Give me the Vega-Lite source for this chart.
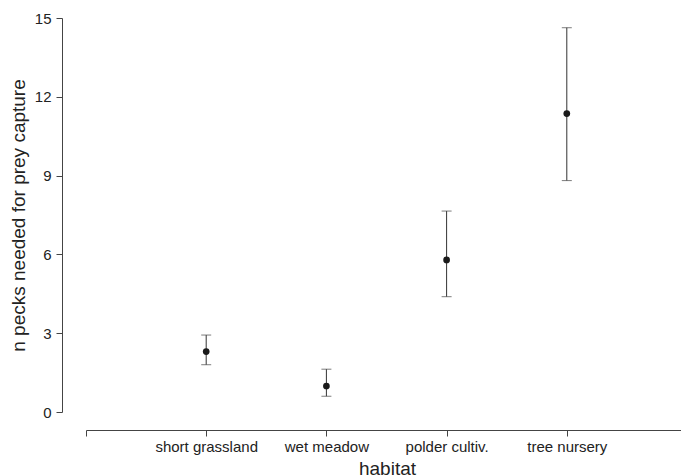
{
  "$schema": "https://vega.github.io/schema/vega-lite/v6.json",
  "width": 595,
  "height": 394,
  "autosize": {"type": "none"},
  "padding": {"left": 86, "top": 18, "right": 0, "bottom": 64},
  "background": "white",
  "config": {
    "view": {"stroke": null},
    "font": "Liberation Sans",
    "axis": {"grid": false, "domainColor": "#444", "tickColor": "#444", "labelColor": "#222", "titleColor": "#222", "titleFontWeight": "normal", "labelFont": "Liberation Sans", "titleFont": "Liberation Sans"}
  },
  "data": {
    "values": [
      {"habitat": "short grassland", "mean": 2.3, "lower": 1.8, "upper": 2.93},
      {"habitat": "wet meadow", "mean": 0.99, "lower": 0.6, "upper": 1.63},
      {"habitat": "polder cultiv.", "mean": 5.79, "lower": 4.39, "upper": 7.65},
      {"habitat": "tree nursery", "mean": 11.36, "lower": 8.81, "upper": 14.63}
    ]
  },
  "encoding": {
    "x": {
      "field": "habitat",
      "type": "nominal",
      "sort": null,
      "scale": {"type": "point", "domain": ["", "short grassland", "wet meadow", "polder cultiv.", "tree nursery", " "], "range": [0, 601], "padding": 0},
      "axis": {"title": "habitat", "labelAngle": 0, "labelFontSize": 15, "titleFontSize": 19, "tickSize": 6, "labelPadding": 3, "titlePadding": 5, "titleX": 301, "offset": 18, "domainWidth": 1, "tickWidth": 1}
    }
  },
  "layer": [
    {
      "mark": {"type": "rule", "color": "#333", "strokeWidth": 1},
      "encoding": {
        "y": {"field": "lower", "type": "quantitative", "scale": {"domain": [0, 15], "nice": false},
          "axis": {"title": "n pecks needed for prey capture", "values": [0, 3, 6, 9, 12, 15], "labelFontSize": 15, "titleFontSize": 19, "tickSize": 6, "labelPadding": 5, "titlePadding": 6, "offset": 24}},
        "y2": {"field": "upper"}
      }
    },
    {
      "mark": {"type": "tick", "color": "#444", "size": 10, "thickness": 1},
      "encoding": {"y": {"field": "upper", "type": "quantitative"}}
    },
    {
      "mark": {"type": "tick", "color": "#444", "size": 10, "thickness": 1},
      "encoding": {"y": {"field": "lower", "type": "quantitative"}}
    },
    {
      "mark": {"type": "circle", "color": "#1a1a1a", "size": 45, "opacity": 1},
      "encoding": {"y": {"field": "mean", "type": "quantitative"}}
    }
  ]
}
